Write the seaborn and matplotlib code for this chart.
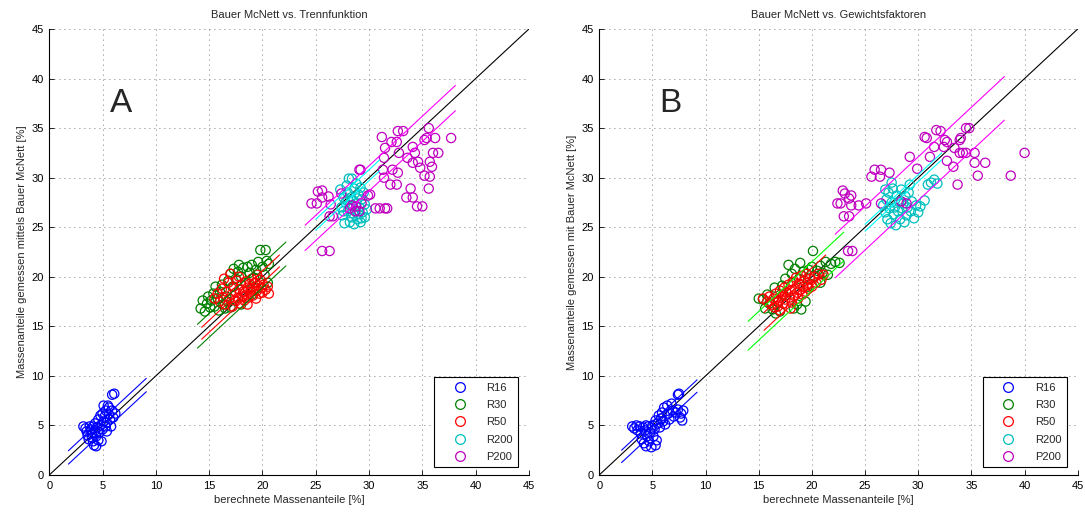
import matplotlib
matplotlib.use("Agg")
import matplotlib.pyplot as plt
from matplotlib.lines import Line2D
import pandas as pd
import seaborn as sns

# ---------------- data ----------------
series = ["R16", "R30", "R50", "R200", "P200"]
marker_colors = ["#0000ff", "#008000", "#ff0000", "#00bfbf", "#bf00bf"]
lineA_colors = ["#0000ff", "#008000", "#ff0000", "#00ffff", "#ff00ff"]
lineB_colors = ["#0000ff", "#00ff00", "#ff0000", "#00ffff", "#ff00ff"]

titles = ["Bauer McNett vs. Trennfunktion", "Bauer McNett vs. Gewichtsfaktoren"]
ylabels = ["Massenanteile gemessen mittels Bauer McNett [%]",
           "Massenanteile gemessen mit Bauer McNett [%]"]
xlabel = "berechnete Massenanteile [%]"
panel_letters = ["A", "B"]
ticks = [0, 5, 10, 15, 20, 25, 30, 35, 40, 45]

# Panel A points (x = calculated, y = measured)
A_R16 = [(3.2, 4.9), (3.4, 4.7), (3.5, 4.4), (3.6, 4.0), (3.7, 3.6), (3.8, 4.9), (3.9, 4.6),
         (4.0, 4.2), (4.0, 3.8), (4.1, 3.4), (4.1, 4.9), (4.2, 3.0), (4.3, 4.5), (4.3, 5.2),
         (4.4, 2.9), (4.4, 3.9), (4.5, 4.8), (4.6, 3.5), (4.6, 5.6), (4.7, 4.3), (4.8, 5.0),
         (4.9, 3.4), (5.0, 6.2), (5.0, 4.6), (5.1, 7.0), (5.1, 5.4), (5.2, 5.9), (5.3, 6.5),
         (5.3, 4.9), (5.4, 5.3), (5.5, 7.0), (5.6, 6.1), (5.7, 5.6), (5.8, 4.9), (5.9, 6.5),
         (5.9, 8.1), (6.1, 8.2), (6.0, 5.8), (6.2, 6.2), (5.4, 4.4), (4.8, 6.0), (5.6, 6.8)]
A_R30 = [(14.2, 16.8), (14.4, 17.6), (14.6, 16.5), (14.8, 17.3), (14.9, 18.0), (15.1, 16.9),
         (15.2, 17.6), (15.4, 18.3), (15.5, 17.0), (15.6, 19.0), (15.8, 17.8), (15.9, 16.6),
         (16.0, 18.5), (16.2, 19.2), (16.3, 17.2), (16.5, 16.8), (16.6, 18.0), (16.8, 19.6),
         (17.0, 20.3), (17.2, 19.0), (17.3, 20.8), (17.5, 19.8), (17.7, 20.5), (17.8, 21.2),
         (18.0, 20.0), (18.2, 20.9), (18.4, 19.4), (18.6, 21.0), (18.8, 20.4), (19.0, 21.2),
         (19.2, 19.9), (19.4, 20.7), (19.6, 21.5), (19.8, 22.7), (20.3, 22.7), (20.0, 21.0),
         (20.2, 20.2), (20.4, 21.6), (20.6, 21.3), (19.0, 18.2), (18.0, 17.2), (17.0, 16.9),
         (16.7, 17.5), (20.5, 19.4), (19.5, 18.8)]
A_R50 = [(15.5, 17.8), (15.8, 18.3), (16.0, 17.5), (16.2, 18.8), (16.3, 17.9), (16.5, 17.2),
         (16.6, 18.5), (16.8, 19.4), (16.9, 17.8), (17.0, 20.3), (17.1, 18.2), (17.2, 17.0),
         (17.3, 19.0), (17.4, 17.6), (17.5, 18.4), (17.6, 19.6), (17.7, 17.9), (17.8, 18.7),
         (17.9, 17.3), (18.0, 19.2), (18.1, 18.0), (18.2, 18.5), (18.3, 17.6), (18.4, 19.5),
         (18.5, 18.2), (18.6, 18.9), (18.7, 17.9), (18.8, 19.3), (18.9, 18.5), (19.0, 19.8),
         (19.1, 18.1), (19.2, 18.8), (19.3, 19.4), (19.4, 17.8), (19.5, 18.6), (19.6, 19.1),
         (19.7, 18.3), (19.8, 19.7), (19.9, 18.9), (20.0, 18.4), (20.1, 19.2), (20.3, 18.7),
         (20.5, 19.0), (20.6, 18.3), (16.4, 19.8), (17.8, 20.0), (18.6, 17.2), (19.5, 20.2)]
A_R200 = [(27.3, 28.8), (27.4, 27.0), (27.5, 26.2), (27.6, 28.0), (27.7, 25.4), (27.8, 27.5),
          (27.9, 29.2), (28.0, 26.6), (28.0, 28.5), (28.1, 29.9), (28.2, 25.5), (28.2, 27.2),
          (28.3, 28.0), (28.4, 29.9), (28.4, 26.0), (28.5, 27.7), (28.6, 25.3), (28.6, 28.9),
          (28.7, 26.7), (28.8, 27.4), (28.8, 29.4), (28.9, 25.8), (29.0, 28.3), (29.0, 26.3),
          (29.1, 27.0), (29.2, 29.0), (29.2, 25.5), (29.3, 27.8), (29.4, 26.5), (29.5, 28.5),
          (29.6, 26.0), (29.6, 27.3), (29.8, 26.8), (28.5, 26.4), (28.0, 27.8), (28.9, 27.9),
          (27.6, 26.6), (29.3, 25.9)]
A_P200 = [(31.2, 34.1), (32.1, 33.6), (32.7, 34.7), (33.2, 34.7), (32.6, 33.6), (31.5, 33.0),
          (32.8, 32.5), (31.4, 32.0), (35.6, 35.0), (35.2, 33.8), (35.4, 34.0), (36.2, 34.0),
          (37.7, 34.0), (34.1, 33.1), (34.3, 32.5), (36.0, 32.5), (36.5, 32.5), (33.6, 32.0),
          (34.1, 31.5), (34.6, 31.6), (35.7, 31.6), (35.9, 31.1), (34.8, 31.0), (35.2, 30.2),
          (35.7, 30.1), (31.3, 30.8), (32.2, 30.8), (32.7, 30.5), (31.4, 30.0), (29.1, 30.8),
          (29.2, 30.8), (33.9, 28.9), (35.6, 28.9), (32.0, 29.3), (32.6, 29.3), (33.5, 28.0),
          (34.1, 28.0), (34.5, 27.1), (35.0, 27.1), (31.5, 26.9), (31.0, 26.9), (31.7, 26.9),
          (29.9, 28.2), (30.1, 28.3), (25.6, 28.7), (25.2, 28.6), (25.6, 28.0), (26.2, 28.1),
          (24.6, 27.4), (25.1, 27.4), (26.4, 27.3), (26.6, 26.1), (26.3, 26.1), (27.4, 28.4),
          (25.6, 22.6), (26.3, 22.6), (28.4, 27.2), (28.8, 27.1), (29.3, 27.4), (28.2, 26.9),
          (28.7, 26.6), (30.6, 26.9), (29.1, 26.6)]

# Panel B points
B_R16 = [(3.1, 4.9), (3.3, 4.7), (3.5, 5.0), (3.6, 4.5), (3.8, 4.9), (3.9, 4.2), (4.0, 3.6),
         (4.1, 4.8), (4.2, 3.2), (4.3, 4.5), (4.4, 2.9), (4.5, 3.9), (4.6, 4.9), (4.7, 3.4),
         (4.8, 4.3), (4.9, 2.8), (5.0, 5.0), (5.1, 3.9), (5.2, 4.6), (5.3, 5.5), (5.4, 3.5),
         (5.5, 5.2), (5.6, 6.0), (5.7, 4.8), (5.8, 5.7), (5.9, 6.3), (6.0, 5.4), (6.1, 6.8),
         (6.2, 5.1), (6.4, 7.0), (6.5, 6.2), (6.6, 5.6), (6.8, 7.2), (6.9, 6.5), (7.0, 5.9),
         (7.2, 6.3), (7.4, 8.1), (7.5, 8.2), (7.4, 6.6), (7.6, 5.8), (7.7, 6.2), (7.8, 5.5),
         (7.9, 6.5), (4.4, 5.0), (5.3, 3.0)]
B_R30 = [(15.0, 17.8), (15.4, 17.7), (15.6, 16.8), (15.8, 18.2), (16.0, 17.3), (16.3, 16.7),
         (16.5, 18.9), (16.8, 17.5), (17.0, 16.5), (17.2, 19.1), (17.5, 19.8), (17.8, 21.2),
         (18.1, 20.3), (18.3, 16.8), (18.6, 17.2), (18.9, 21.4), (19.0, 16.7), (19.2, 20.5),
         (19.4, 17.5), (19.7, 20.7), (20.0, 21.0), (20.2, 20.1), (20.5, 20.6), (20.8, 21.1),
         (21.0, 20.4), (21.3, 21.5), (21.5, 20.2), (21.8, 21.3), (22.2, 21.5), (22.6, 21.4),
         (20.1, 22.6), (18.4, 20.8), (17.3, 18.2), (16.6, 16.3), (19.6, 19.0), (20.8, 19.4),
         (18.8, 19.8)]
B_R50 = [(15.4, 17.8), (15.8, 17.5), (16.0, 18.0), (16.2, 17.2), (16.4, 17.8), (16.6, 18.3),
         (16.8, 17.0), (16.9, 17.6), (17.0, 18.6), (17.2, 18.0), (17.3, 17.3), (17.4, 18.9),
         (17.5, 17.7), (17.6, 18.4), (17.8, 19.2), (17.9, 17.9), (18.0, 18.6), (18.1, 17.4),
         (18.2, 19.5), (18.3, 18.1), (18.4, 18.8), (18.5, 19.9), (18.6, 18.4), (18.7, 17.8),
         (18.8, 19.3), (18.9, 18.7), (19.0, 20.1), (19.1, 18.2), (19.2, 19.0), (19.3, 19.6),
         (19.4, 18.5), (19.5, 20.3), (19.6, 19.2), (19.7, 18.8), (19.8, 19.8), (20.0, 19.0),
         (20.2, 20.0), (20.4, 19.4), (20.6, 20.3), (20.9, 19.7), (21.1, 20.2), (18.0, 16.8),
         (17.0, 16.6), (16.5, 16.9)]
B_R200 = [(26.7, 27.2), (26.9, 26.5), (27.0, 27.8), (27.1, 25.8), (27.2, 28.5), (27.3, 26.9),
          (27.4, 25.4), (27.5, 27.5), (27.6, 28.9), (27.7, 26.3), (27.8, 27.0), (27.9, 25.2),
          (28.0, 28.2), (28.1, 26.6), (28.2, 27.6), (28.3, 25.8), (28.4, 28.8), (28.5, 26.9),
          (28.6, 27.4), (28.7, 25.5), (28.8, 28.1), (28.9, 26.2), (29.0, 27.0), (29.1, 28.5),
          (29.3, 26.6), (29.4, 27.6), (29.6, 25.9), (29.8, 27.2), (30.0, 26.5), (30.2, 27.1),
          (30.6, 27.7), (30.9, 29.3), (31.2, 29.5), (31.5, 29.8), (31.8, 29.4), (29.2, 29.3),
          (27.5, 29.5), (26.9, 28.8)]
B_P200 = [(31.7, 34.8), (32.1, 34.7), (30.6, 34.1), (30.8, 34.0), (32.5, 33.8), (32.7, 33.6),
          (34.5, 35.0), (34.8, 35.0), (34.0, 34.0), (33.9, 33.8), (31.5, 33.1), (32.4, 33.1),
          (33.4, 33.0), (33.9, 32.5), (34.2, 32.5), (34.5, 32.5), (35.3, 32.5), (29.2, 32.1),
          (31.1, 32.1), (32.7, 31.7), (33.3, 31.1), (35.3, 31.5), (36.3, 31.5), (29.9, 30.9),
          (33.7, 29.3), (35.6, 30.2), (38.7, 30.2), (40.0, 32.5), (25.9, 30.8), (26.5, 30.8),
          (26.4, 30.1), (25.6, 30.1), (27.3, 30.5), (22.9, 28.7), (23.1, 28.4), (23.7, 28.2),
          (23.5, 27.9), (22.4, 27.4), (22.7, 27.4), (23.7, 27.2), (24.4, 27.2), (25.1, 27.4),
          (23.0, 26.1), (23.5, 26.1), (26.5, 27.4), (28.4, 27.6), (28.9, 27.4), (23.4, 22.6),
          (23.8, 22.6)]

# Bands: x range and offsets of upper / lower lines relative to y = x
A_band_x0 = [1.8, 13.9, 14.3, 25.0, 24.0]
A_band_x1 = [9.1, 22.2, 21.6, 31.0, 38.1]
A_band_up = [0.65, 1.3, 0.6, 0.8, 1.2]
A_band_lo = [-0.7, -1.1, -0.6, -0.3, -1.35]
B_band_x0 = [2.1, 14.0, 15.5, 25.0, 22.2]
B_band_x1 = [9.2, 23.0, 21.3, 32.2, 38.1]
B_band_up = [0.4, 1.5, 0.9, 0.3, 2.1]
B_band_lo = [-0.85, -1.4, -0.9, -0.4, -2.3]

# ---------------- style ----------------
sns.set_style("ticks")
plt.rcParams["font.family"] = ["Liberation Sans", "DejaVu Sans"]
plt.rcParams["font.size"] = 8

fig = plt.figure(figsize=(10.85, 5.14), dpi=100)
axA = fig.add_axes([0.0454, 0.0759, 0.4421, 0.8677])
axB = fig.add_axes([0.5523, 0.0759, 0.4410, 0.8677])

panels = [
    (axA, [A_R16, A_R30, A_R50, A_R200, A_P200], A_band_x0, A_band_x1, A_band_up, A_band_lo, lineA_colors),
    (axB, [B_R16, B_R30, B_R50, B_R200, B_P200], B_band_x0, B_band_x1, B_band_up, B_band_lo, lineB_colors),
]

for i, (ax, pts, bx0, bx1, bup, blo, lcols) in enumerate(panels):
    ax.plot([0, 45], [0, 45], color="black", lw=0.8, zorder=2)
    for k, name in enumerate(series):
        df = pd.DataFrame(pts[k], columns=["x", "y"])
        before = len(ax.collections)
        sns.scatterplot(data=df, x="x", y="y", ax=ax, color=marker_colors[k], s=44,
                        marker="o", linewidth=0.9, zorder=3, legend=False)
        for coll in ax.collections[before:]:
            coll.set_facecolor("none")
            coll.set_edgecolor(marker_colors[k])
    for k, name in enumerate(series):
        xs = [bx0[k], bx1[k]]
        ax.plot(xs, [bx0[k] + bup[k], bx1[k] + bup[k]], color=lcols[k], lw=0.8, zorder=4)
        ax.plot(xs, [bx0[k] + blo[k], bx1[k] + blo[k]], color=lcols[k], lw=0.8, zorder=4)

    ax.set_xlim(0, 45)
    ax.set_ylim(0, 45)
    ax.set_xticks(ticks)
    ax.set_yticks(ticks)
    ax.grid(True, color="0.3", linestyle=(0, (1, 5)), linewidth=0.6)
    ax.set_axisbelow(True)
    for side in ["top", "right"]:
        ax.spines[side].set_visible(False)
    for side in ["left", "bottom"]:
        ax.spines[side].set_color("black")
        ax.spines[side].set_linewidth(0.8)
        ax.spines[side].set_zorder(5)
    ax.tick_params(direction="in", length=3.5, width=0.6, colors="black",
                   labelsize=8, pad=4)
    ax.set_title(titles[i], fontsize=8, pad=8)
    ax.set_xlabel(xlabel, fontsize=8, labelpad=3)
    ax.set_ylabel(ylabels[i], fontsize=8, labelpad=3)
    ax.text(6.7, 37.5, panel_letters[i], fontsize=24, ha="center", va="center")

    handles = [Line2D([], [], marker="o", linestyle="none", markerfacecolor="none",
                      markeredgecolor=c, markersize=7, markeredgewidth=0.9)
               for c in marker_colors]
    leg = ax.legend(handles, series, loc="lower right", bbox_to_anchor=(0.978, 0.017),
                    borderaxespad=0, fontsize=8, frameon=True, fancybox=False,
                    framealpha=1, edgecolor="black", handlelength=3.6,
                    handletextpad=0.6, labelspacing=0.66, borderpad=0.5)
    leg.get_frame().set_linewidth(0.8)
    leg.set_zorder(10)

fig.savefig("out.png", dpi=100)
